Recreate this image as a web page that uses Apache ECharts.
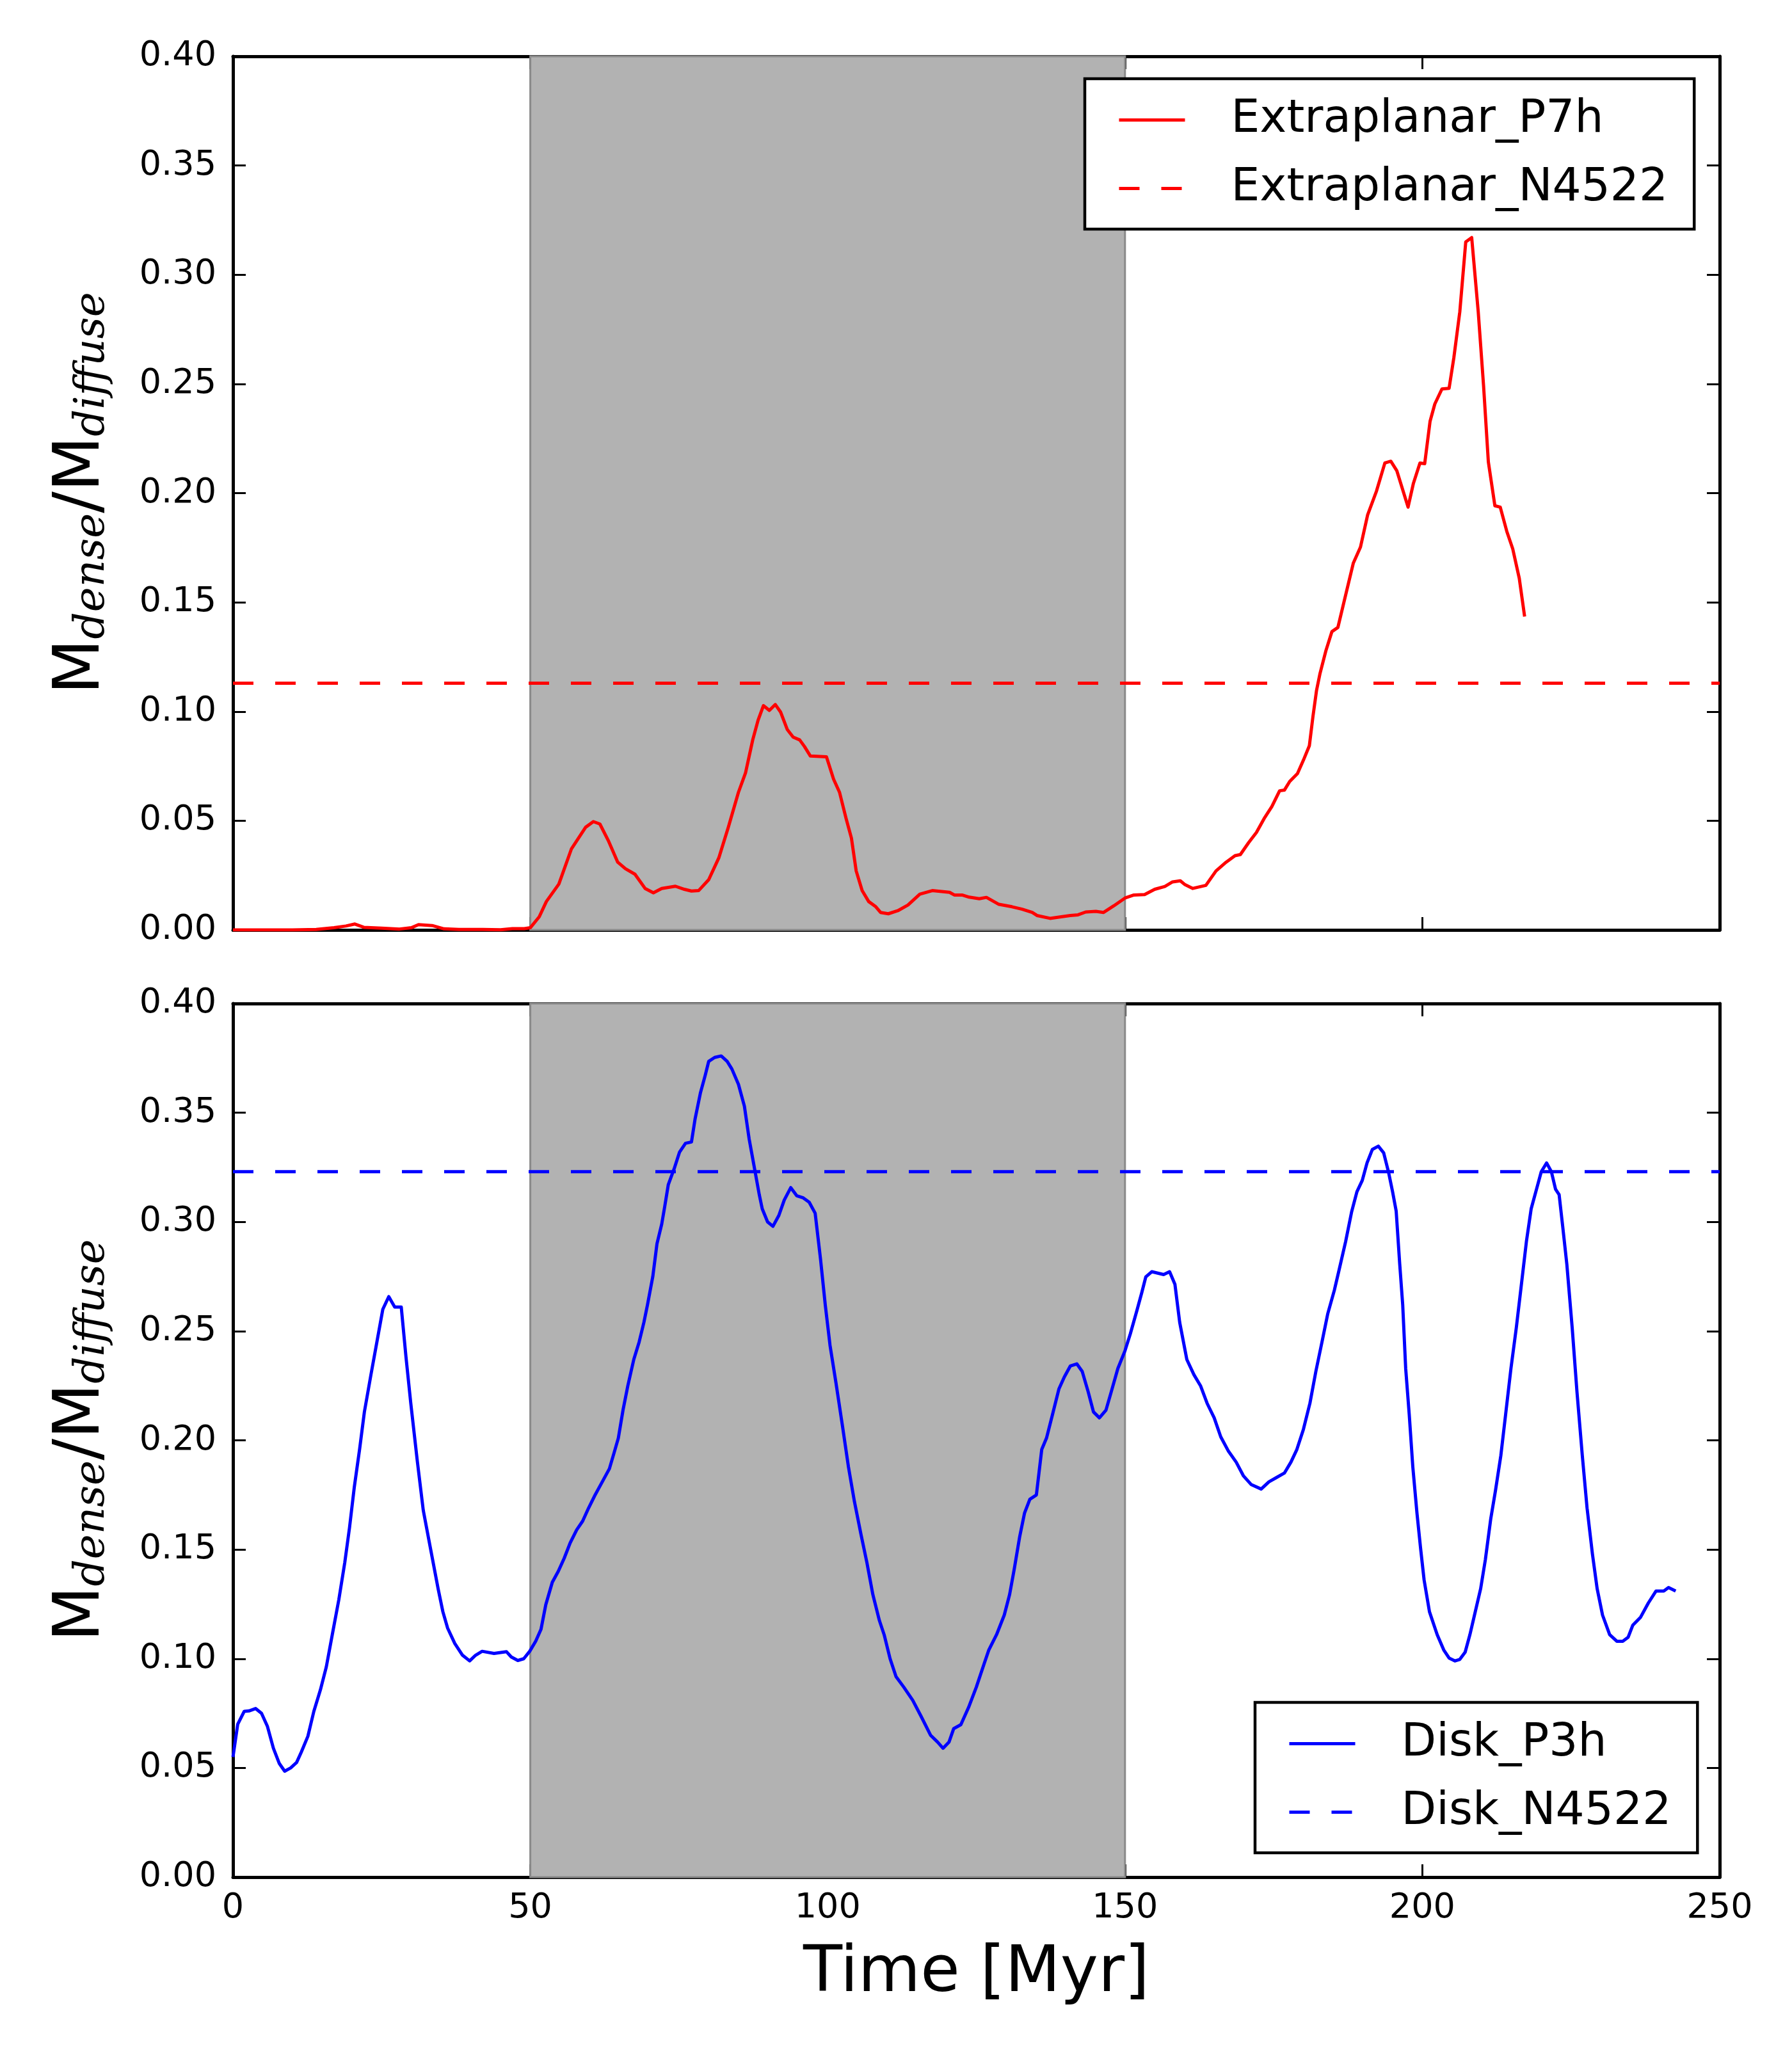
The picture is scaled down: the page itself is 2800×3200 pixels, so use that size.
<!DOCTYPE html>
<html lang="en">
<head>
<meta charset="UTF-8">
<title>Dense / diffuse mass ratio</title>
<script src="https://cdn.jsdelivr.net/npm/echarts@6/dist/echarts.min.js"></script>
<style>
    html, body { margin: 0; padding: 0; background: #fff; }
    #chart { width: 2800px; height: 3200px; }
</style>
</head>
<body>
<div id="chart"></div>
<script>
    // ---- data ----
    const xTicks = [0, 50, 100, 150, 200, 250];
    const shadeRange = [50, 150];

    const extraTime = [0, 5, 10, 14, 17, 19, 20.5, 22, 25, 28, 30, 31.2, 33.5, 35.5, 38, 42, 45, 47, 49, 50,
        51.5, 52.7, 54.8, 56.9, 59.3, 60.6, 61.7, 63.1, 64.7, 66, 67.6, 69.3, 70.7, 72.1, 74.4, 75.9, 77.1, 78.3,
        80, 81.7, 83.3, 85, 86.2, 87.4, 88.3, 89.2, 90.2, 91.2, 92.1, 93.2, 94.2, 95.3, 96.1, 97.1, 99.8, 101,
        102, 103.1, 104, 104.8, 105.8, 106.9, 108.1, 108.9, 110.2, 111.8, 113.5, 115.5, 117.6, 120.5, 121.3,
        122.6, 123.8, 125.5, 126.7, 128.8, 131, 132.7, 134.4, 135.2, 137.4, 138.7, 140.8, 142.1, 143.4, 145.1,
        146.4, 148.1, 150, 151.5, 153.3, 155, 156.7, 158, 159.3, 160.1, 161.4, 163.6, 165.3, 167, 168.5, 169.4,
        170.8, 172.1, 173.4, 174.7, 176, 176.8, 177.7, 179, 180, 181, 181.6, 182.2, 182.8, 183.8, 184.8, 185.8,
        187.1, 188.4, 189.6, 190.8, 192.3, 193.7, 194.7, 195.7, 197.6, 198.5, 199.6, 200.4, 201.3, 202.1, 203.3,
        204.5, 205.3, 206.3, 207.3, 208.3, 209.4, 210.3, 211.1, 212.2, 213.1, 214.2, 215.2, 216.3, 217.2];
    const extraValue = [0, 0, 0, 0.0002, 0.001, 0.0018, 0.0027, 0.0012, 0.0008, 0.0004, 0.001, 0.0024, 0.002,
        0.0005, 0.0002, 0.0002, 0.0001, 0.0006, 0.0006, 0.001,
        0.006, 0.013, 0.021, 0.037, 0.047, 0.0496, 0.0485, 0.041, 0.031, 0.028, 0.0255, 0.019, 0.017, 0.019,
        0.020, 0.0186, 0.0178, 0.018, 0.023, 0.033, 0.047, 0.063, 0.072, 0.087, 0.096, 0.1027, 0.1005, 0.1032,
        0.0997, 0.0918, 0.0883, 0.087, 0.084, 0.0796, 0.0793, 0.069, 0.063, 0.051, 0.042, 0.027, 0.018, 0.013,
        0.0106, 0.008, 0.0074, 0.0088, 0.0114, 0.0164, 0.018, 0.0172, 0.016, 0.016, 0.015, 0.0143, 0.0149,
        0.0117, 0.0106, 0.0095, 0.008, 0.0066, 0.0053, 0.0058, 0.0066, 0.0069, 0.0082, 0.0085, 0.008, 0.011,
        0.0146, 0.016, 0.0162, 0.0186, 0.0199, 0.022, 0.0225, 0.0207, 0.019, 0.0204, 0.027, 0.031, 0.034,
        0.0345, 0.040, 0.0446, 0.051, 0.0565, 0.0637, 0.064, 0.068, 0.0716, 0.0777, 0.0843, 0.0976, 0.1095,
        0.1175, 0.128, 0.1366, 0.1385, 0.1533, 0.168, 0.1753, 0.190, 0.201, 0.2138, 0.2146, 0.2103, 0.1936,
        0.2045, 0.2138, 0.2135, 0.2329, 0.2408, 0.2477, 0.248, 0.262, 0.283, 0.315, 0.317, 0.283, 0.249, 0.2143,
        0.1942, 0.1936, 0.1825, 0.1745, 0.161, 0.1435];
    const extraRef = 0.113;

    const diskTime = [0, 0.8, 1.9, 2.7, 3.8, 4.8, 5.8, 6.8, 7.8, 8.7, 9.7, 10.7, 11.5, 12.6, 13.6, 14.7, 15.7,
        16.7, 17.8, 18.8, 19.6, 20.4, 21.3, 22.1, 23.2, 24.2, 25.2, 26.2, 27.2, 28.3, 29.1, 29.9, 31, 32, 33.2,
        34.5, 35.3, 36.1, 37.3, 38.6, 39.8, 40.8, 41.9, 43.9, 46, 46.8, 47.9, 48.9, 49.9, 50.9, 51.8, 52.6,
        53.7, 54.7, 55.7, 56.7, 57.8, 58.8, 59.8, 60.8, 62.1, 63.3, 64.1, 64.8, 65.6, 66.4, 67.4, 68.3, 69.1,
        69.7, 70.6, 71.3, 72.1, 72.6, 73.2, 74.2, 75.1, 76.1, 77.1, 77.7, 78.6, 79.4, 80, 81, 82.1, 83.1, 83.9,
        85, 86, 86.8, 87.6, 88.5, 89, 89.9, 90.8, 91.8, 92.7, 93.8, 94.8, 95.9, 96.9, 97.9, 98.8, 99.6, 100.4,
        101.4, 102.5, 103.5, 104.5, 105.6, 106.6, 107.6, 108.7, 109.5, 110.5, 111.5, 112.8, 114.3, 115.7,
        117.3, 118.5, 119.4, 120.4, 121.2, 122.4, 123.7, 125, 126.3, 127.1, 128.4, 129.7, 130.6, 131.4, 132.3,
        133.1, 134, 135.1, 136, 136.8, 137.8, 138.9, 139.8, 140.8, 141.9, 142.8, 143.8, 144.7, 145.7, 146.8,
        147.7, 148.8, 150, 150.9, 152, 152.8, 153.5, 154.5, 156.5, 157.5, 158.4, 159.2, 160.4, 161.6, 162.7,
        163.8, 165, 166.1, 167.4, 168.7, 169.9, 171.2, 172.9, 174.2, 175.5, 176.8, 177.9, 178.9, 180, 181.1,
        182.1, 183.2, 184.1, 185.2, 186, 187.1, 188.1, 189, 189.9, 190.7, 191.6, 192.6, 193.5, 194.3, 195,
        195.6, 196.2, 196.7, 197.2, 197.8, 198.4, 199.1, 199.7, 200.3, 201.2, 202.5, 203.6, 204.5, 205.5,
        206.3, 207.2, 208, 208.9, 209.8, 210.6, 211.5, 212.3, 213.2, 214, 214.9, 215.8, 216.6, 217.5, 218.3,
        219.2, 220, 220.9, 221.7, 222.4, 223, 223.6, 224.3, 225.2, 226, 226.9, 227.7, 228.6, 229.4, 230.3,
        231.5, 232.7, 233.7, 234.6, 235.4, 236.7, 238, 239.3, 240.6, 241.4, 242.6];
    const diskValue = [0.055, 0.070, 0.0759, 0.0761, 0.0772, 0.075, 0.069, 0.059, 0.052, 0.0485, 0.050, 0.0525,
        0.0573, 0.0645, 0.0759, 0.0857, 0.0963, 0.111, 0.127, 0.144, 0.160, 0.1785, 0.196, 0.213, 0.230, 0.245,
        0.260, 0.2658, 0.261, 0.261, 0.238, 0.217, 0.1905, 0.168, 0.1507, 0.132, 0.1215, 0.114, 0.107, 0.1016,
        0.099, 0.1016, 0.1034, 0.1024, 0.1032, 0.1008, 0.0992, 0.100, 0.1034, 0.108, 0.1135, 0.1247, 0.135,
        0.140, 0.146, 0.153, 0.159, 0.163, 0.169, 0.1745, 0.181, 0.187, 0.1944, 0.201, 0.214, 0.225, 0.237,
        0.245, 0.254, 0.262, 0.275, 0.290, 0.299, 0.307, 0.317, 0.3244, 0.332, 0.336, 0.3366, 0.347, 0.359,
        0.367, 0.3735, 0.3753, 0.376, 0.3735, 0.370, 0.363, 0.353, 0.338, 0.326, 0.3125, 0.306, 0.300, 0.298,
        0.303, 0.310, 0.3157, 0.312, 0.311, 0.309, 0.304, 0.283, 0.262, 0.2435, 0.2263, 0.2064, 0.1878, 0.172,
        0.157, 0.144, 0.1294, 0.1175, 0.111, 0.100, 0.0918, 0.087, 0.081, 0.0737, 0.065, 0.0618, 0.059, 0.0618,
        0.068, 0.0698, 0.0777, 0.087, 0.0976, 0.104, 0.111, 0.120, 0.1294, 0.1414, 0.156, 0.1666, 0.173, 0.175,
        0.1958, 0.201, 0.2117, 0.2236, 0.229, 0.234, 0.235, 0.2316, 0.2223, 0.213, 0.2103, 0.2138, 0.2223,
        0.2329, 0.241, 0.2488, 0.2594, 0.2674, 0.2748, 0.2772, 0.2759, 0.2772, 0.2714, 0.254, 0.237, 0.230,
        0.225, 0.217, 0.2103, 0.2016, 0.195, 0.190, 0.1838, 0.1798, 0.1777, 0.181, 0.183, 0.185, 0.190, 0.1958,
        0.205, 0.217, 0.2316, 0.246, 0.258, 0.2687, 0.278, 0.291, 0.3045, 0.3138, 0.319, 0.327, 0.3332, 0.3347,
        0.3316, 0.323, 0.3138, 0.305, 0.2806, 0.262, 0.2329, 0.2117, 0.1878, 0.1666, 0.1507, 0.136, 0.1215,
        0.111, 0.104, 0.1003, 0.099, 0.0997, 0.103, 0.111, 0.1215, 0.132, 0.1454, 0.164, 0.177, 0.193, 0.2117,
        0.2329, 0.2515, 0.270, 0.291, 0.306, 0.315, 0.323, 0.327, 0.323, 0.315, 0.3125, 0.298, 0.2806, 0.2515,
        0.2223, 0.193, 0.169, 0.148, 0.132, 0.120, 0.111, 0.108, 0.108, 0.1098, 0.1154, 0.119, 0.1255, 0.131,
        0.131, 0.1326, 0.131];
    const diskRef = 0.323;

    const xMin = xTicks[0], xMax = xTicks[xTicks.length - 1];
    const pairs = (xs, ys) => xs.map((x, i) => [x, ys[i]]);

    const FONT = 'DejaVu Sans';
    const LINE_W = 5;
    const DASH = [32, 34];
    const grids = [
        { left: 364, top: 88, width: 2323, height: 1365 },
        { left: 364, top: 1568, width: 2323, height: 1365 }
    ];

    // M upright, subscripts italic and dropped below the baseline
    const yName = '{m|M}{s|dense}{m|/M}{s|diffuse}';
    const yNameStyle = {
        verticalAlign: 'bottom',
        rich: {
            m: { fontFamily: FONT, fontSize: 100, lineHeight: 100, color: '#000' },
            s: { fontFamily: 'DejaVu Serif', fontStyle: 'italic', fontSize: 66, lineHeight: 46,
                 verticalAlign: 'bottom', color: '#000' }
        }
    };

    const tickStyle = { show: true, inside: true, length: 20, lineStyle: { color: '#000', width: 3 } };
    const lineAxis = { show: true, onZero: false, lineStyle: { color: '#000', width: 5 } };

    function xAxisFor(gi, withLabels) {
        const base = {
            type: 'value', gridIndex: gi, min: xMin, max: xMax, interval: 50,
            splitLine: { show: false }, axisLine: lineAxis, axisTick: tickStyle
        };
        return [
            Object.assign({}, base, {
                position: 'bottom',
                axisLabel: { show: withLabels, fontFamily: FONT, fontSize: 54, lineHeight: 54, color: '#000', margin: 22 },
                name: withLabels ? 'Time [Myr]' : '',
                nameLocation: 'middle', nameGap: 102,
                nameTextStyle: { fontFamily: FONT, fontSize: 100, lineHeight: 100, color: '#000', verticalAlign: 'top' }
            }),
            Object.assign({}, base, { position: 'top', axisLabel: { show: false } })
        ];
    }

    function yAxisFor(gi) {
        const base = {
            type: 'value', gridIndex: gi, min: 0, max: 0.4, interval: 0.05,
            splitLine: { show: false }, axisLine: lineAxis, axisTick: tickStyle
        };
        return [
            Object.assign({}, base, {
                position: 'left',
                axisLabel: { fontFamily: FONT, fontSize: 54, color: '#000', margin: 26,
                             formatter: v => v.toFixed(2) },
                name: yName, nameLocation: 'middle', nameRotate: 90, nameGap: 186,
                nameTextStyle: yNameStyle
            }),
            Object.assign({}, base, { position: 'right', axisLabel: { show: false } })
        ];
    }

    function shade(xi, yi) {
        return {
            type: 'line', xAxisIndex: xi, yAxisIndex: yi, data: [], z: 1, silent: true,
            markArea: {
                silent: true,
                itemStyle: { color: '#b2b2b2', borderColor: '#8a8a8a', borderWidth: 3 },
                data: [[{ xAxis: shadeRange[0] }, { xAxis: shadeRange[1] }]]
            }
        };
    }

    function curve(name, xi, yi, data, color, dashed) {
        return {
            name: name, type: 'line', xAxisIndex: xi, yAxisIndex: yi, data: data,
            symbol: 'none', z: 3, animation: false,
            lineStyle: { color: color, width: LINE_W, type: dashed ? DASH : 'solid', join: 'round' },
            itemStyle: { color: color }
        };
    }

    const legendBase = {
        orient: 'vertical', itemWidth: 103, itemHeight: 20, itemGap: 36,
        borderColor: '#000', borderWidth: 4.5, backgroundColor: '#fff',
        padding: [29, 41, 28, 51],
        itemStyle: { opacity: 0 },
        lineStyle: { width: LINE_W },
        textStyle: { fontFamily: FONT, fontSize: 71, lineHeight: 71, color: '#000', padding: [0, 0, 0, 67] }
    };

    const chart = echarts.init(document.getElementById('chart'), null, { renderer: 'canvas' });
    chart.setOption({
        animation: false,
        backgroundColor: '#fff',
        grid: grids,
        xAxis: xAxisFor(0, false).concat(xAxisFor(1, true)),
        yAxis: yAxisFor(0).concat(yAxisFor(1)),
        legend: [
            Object.assign({}, legendBase, { left: 1695, top: 123, data: ['Extraplanar_P7h', 'Extraplanar_N4522'] }),
            Object.assign({}, legendBase, { left: 1961, top: 2660, data: ['Disk_P3h', 'Disk_N4522'] })
        ],
        series: [
            shade(0, 0),
            curve('Extraplanar_P7h', 0, 0, pairs(extraTime, extraValue), '#ff0000', false),
            curve('Extraplanar_N4522', 0, 0, [[xMin, extraRef], [xMax, extraRef]], '#ff0000', true),
            shade(2, 2),
            curve('Disk_P3h', 2, 2, pairs(diskTime, diskValue), '#0000ff', false),
            curve('Disk_N4522', 2, 2, [[xMin, diskRef], [xMax, diskRef]], '#0000ff', true)
        ]
    });
</script>
</body>
</html>
